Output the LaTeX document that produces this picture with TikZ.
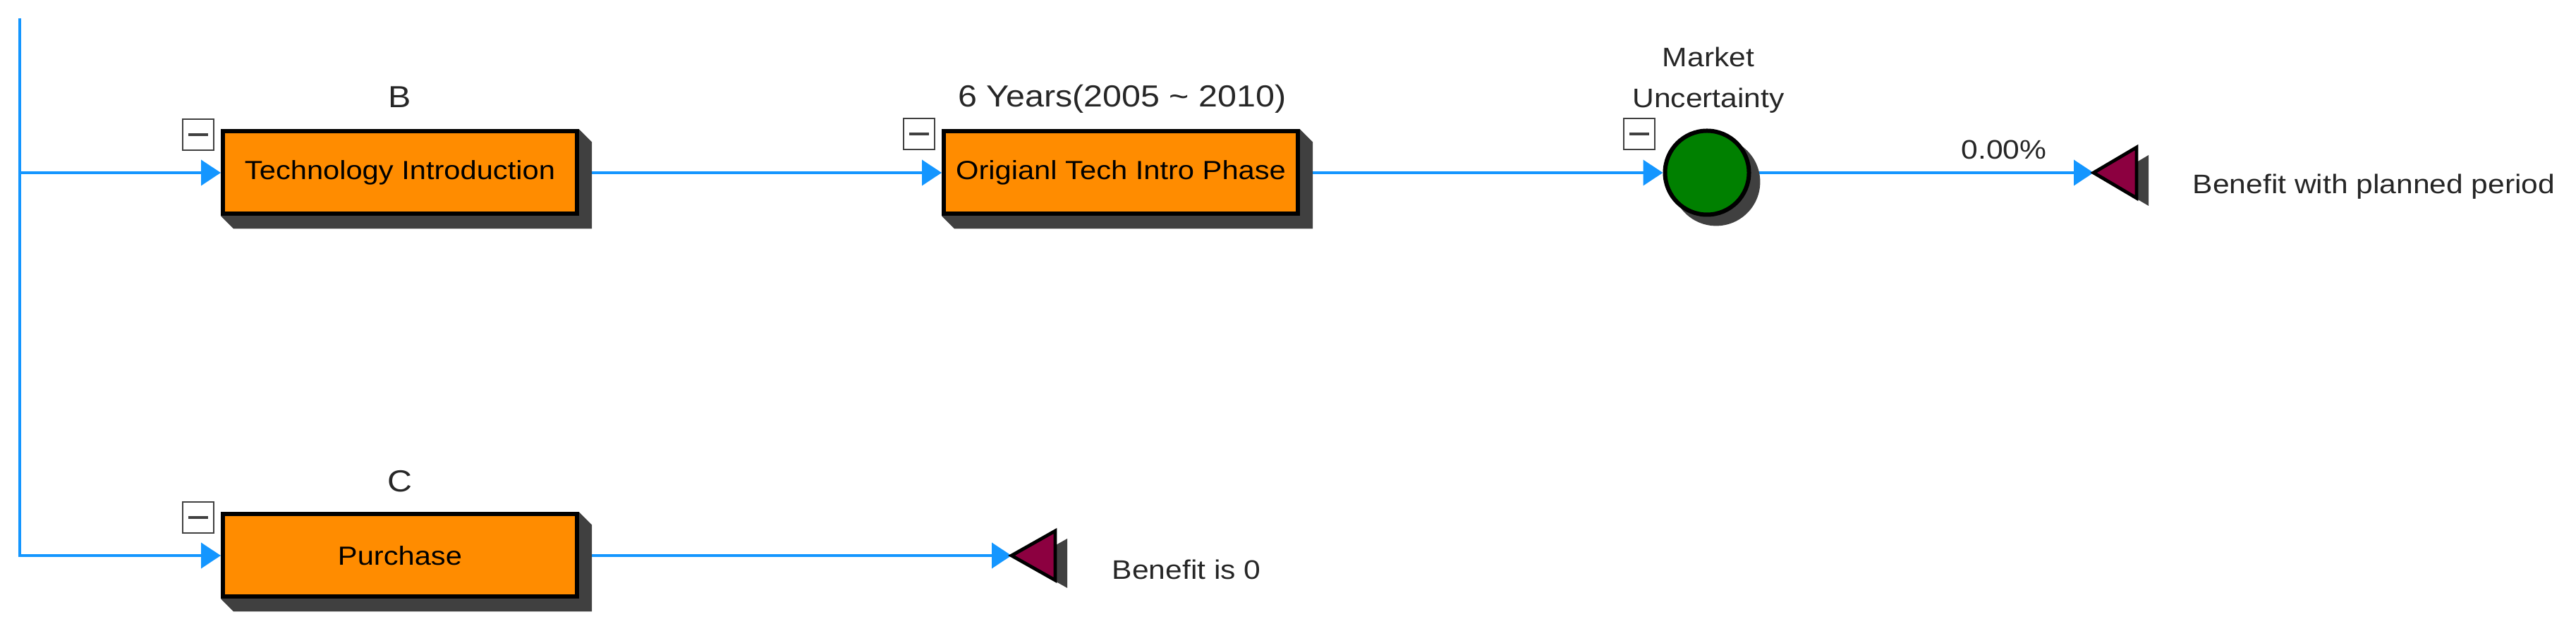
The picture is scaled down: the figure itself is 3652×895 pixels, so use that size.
\documentclass[tikz,border=0pt]{standalone}
\usepackage{fontspec}
\setmainfont{Liberation Sans}[FakeStretch=1.12]
\usetikzlibrary{arrows.meta,calc}
\definecolor{flowblue}{RGB}{20,150,255}
\definecolor{boxorange}{RGB}{255,140,0}
\definecolor{nodegreen}{RGB}{0,128,0}
\definecolor{endmaroon}{RGB}{140,0,64}
\definecolor{shadowgray}{RGB}{64,64,64}
\pgfdeclarelayer{lines}
\pgfdeclarelayer{shadowlayer}
\pgfsetlayers{lines,shadowlayer,main}
\begin{document}
\begin{tikzpicture}[x=0.25pt,y=-0.25pt,
  taskbox/.style={draw=black, line width=1.5pt, fill=boxorange, minimum width=125.5pt,
    minimum height=29.25pt, inner sep=0pt, font=\fontsize{9.3}{11}\selectfont},
  chance/.style={circle, draw=black, line width=1.5pt, fill=nodegreen,
    minimum size=29.75pt, inner sep=0pt},
  minusbox/.style={draw=black!75, line width=0.7pt, fill=white, minimum size=11pt,
    inner sep=0pt, path picture={\draw[line width=1pt]
      ([xshift=-3.5pt]path picture bounding box.center) --
      ([xshift=3.5pt]path picture bounding box.center);}},
  toplabel/.style={font=\fontsize{10.8}{13}\selectfont, text=black!85, inner sep=0pt},
  smalllabel/.style={font=\fontsize{9.5}{14.5}\selectfont, text=black!85, inner sep=0pt},
  flow/.style={draw=flowblue, line width=1pt, -{Triangle[length=7pt,width=9pt]}},
  endtri/.style={fill=endmaroon, draw=black, line width=1.2pt, line join=miter},
  shade/.style={fill=shadowgray}]
\useasboundingbox (0,0) rectangle (3652,895);

% nodes
\node[taskbox] (B) at (567,245) {Technology Introduction};
\node[taskbox] (O) at (1589,245) {Origianl Tech Intro Phase};
\node[taskbox] (C) at (567,788) {Purchase};
\node[chance] (M) at (2420,245) {};
\coordinate (T1) at (2968,245);
\coordinate (T2) at (1434,788);

% end triangles
\draw[endtri] (T1) -- ++(61,-36) -- ++(0,72) -- cycle;
\draw[endtri] (T2) -- ++(62,-35) -- ++(0,70) -- cycle;

% labels
\node[toplabel] (Blab) at (567,138) {B};
\node[toplabel] (Olab) at (1591,140) {6 Years(2005 \textasciitilde{} 2010)};
\node[smalllabel, align=center] (Mlab) at (2422,114) {Market\\Uncertainty};
\node[smalllabel] (Plab) at (2841,212) {0.00\%};
\node[smalllabel, anchor=west] (T1lab) at (3108,265) {Benefit with planned period};
\node[toplabel] (Clab) at (567,683) {C};
\node[smalllabel, anchor=west] (T2lab) at (1576,808) {Benefit is 0};

% collapse boxes
\node[minusbox] (mB) at (281,191) {};
\node[minusbox] (mO) at (1303,190) {};
\node[minusbox] (mM) at (2324,190) {};
\node[minusbox] (mC) at (281,734) {};

% shadows
\begin{pgfonlayer}{shadowlayer}
\foreach \n in {B,O,C}{
  \fill[shade] (\n.north east) -- ++(18,18) -- ($(\n.south east)+(18,18)$)
    -- ($(\n.south west)+(18,18)$) -- (\n.south west) -- cycle;
}
\fill[shade] ($(M)+(13,13)$) circle[radius=15.6pt];
\fill[shade] ($(T1)+(17,11)$) -- ++(61,-36) -- ++(0,72) -- cycle;
\fill[shade] ($(T2)+(17,11)$) -- ++(62,-35) -- ++(0,70) -- cycle;
\end{pgfonlayer}

% connectors
\begin{pgfonlayer}{lines}
\coordinate (root) at (28,26);
\coordinate (jB) at (28,245);
\coordinate (jC) at (28,788);
\draw[flow] (root) -- (jC) -- (C.west);
\draw[flow] (jB) -- (B.west);
\draw[flow] (B.east) -- (O.west);
\draw[flow] (O.east) -- (M.west);
\draw[flow] (M.east) -- (T1);
\draw[flow] (C.east) -- (T2);
\end{pgfonlayer}
\end{tikzpicture}
\end{document}
